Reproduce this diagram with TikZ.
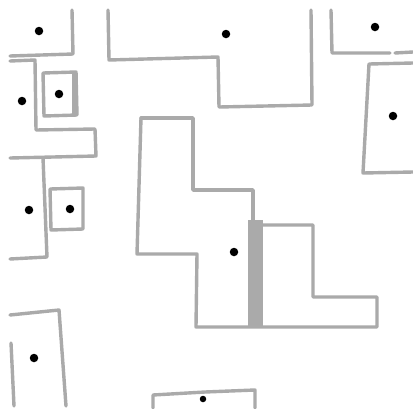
\documentclass[tikz,border=0pt]{standalone}
\definecolor{wallgray}{HTML}{AAAAAA}
\begin{document}
\begin{tikzpicture}[x=1pt,y=-1pt,
  wall/.style={draw=wallgray, line width=3.4pt, line join=round, line cap=round},
  dot/.style={fill=black, circle, inner sep=0pt, minimum size=8.5pt}]
\useasboundingbox[fill=white] (0,0) rectangle (413,408);
% top-left box
\draw[wall] (72,10) -- (73,54) -- (10,56);
% left L outline
\draw[wall] (10,61) -- (35,60) -- (36,130) -- (95,129) -- (96,156) -- (10,158);
% inner small box
\draw[wall] (43,73) -- (76,72) -- (77,115) -- (44,116) -- cycle;
\fill[wallgray] (72,73) rectangle (78,116);
% left middle box
\draw[wall] (43,158) -- (47,257) -- (10,259);
% small box
\draw[wall] (50,189) -- (83,188) -- (83,229) -- (51,230) -- cycle;
% bottom-left box
\draw[wall] (10,315) -- (59,310) -- (66,406);
\draw[wall] (11,343) -- (14,406);
% top middle
\draw[wall] (108,10) -- (109,60) -- (218,57) -- (219,107) -- (312,105) -- (311,10);
% top right box
\draw[wall] (331,10) -- (332,53) -- (390,53);
\draw[wall] (395,53) -- (413,52);
% right box
\draw[wall] (413,63) -- (369,64) -- (363,173) -- (413,172);
% big shape
\draw[wall] (141,118) -- (193,118) -- (193,190) -- (253,190) -- (253,220);
\draw[wall] (263,225) -- (313,225) -- (313,297) -- (377,297) -- (377,327) -- (196,327) -- (197,254) -- (137,254) -- (141,118);
\fill[wallgray] (248,220) rectangle (263,328);
% bottom box
\draw[wall] (153,408) -- (153,395) -- (205,392) -- (255,390) -- (255,408);
% dots
\node[dot] (d1) at (39,31) {};
\node[dot] (d2) at (226,34) {};
\node[dot] (d3) at (375,27) {};
\node[dot] (d4) at (22,101) {};
\node[dot] (d5) at (59,94) {};
\node[dot] (d6) at (393,116) {};
\node[dot] (d7) at (29,210) {};
\node[dot] (d8) at (70,209) {};
\node[dot] (d9) at (234,252) {};
\node[dot] (d10) at (34,358) {};
\node[dot, minimum size=6.5pt] (d11) at (203,399) {};
\end{tikzpicture}
\end{document}
